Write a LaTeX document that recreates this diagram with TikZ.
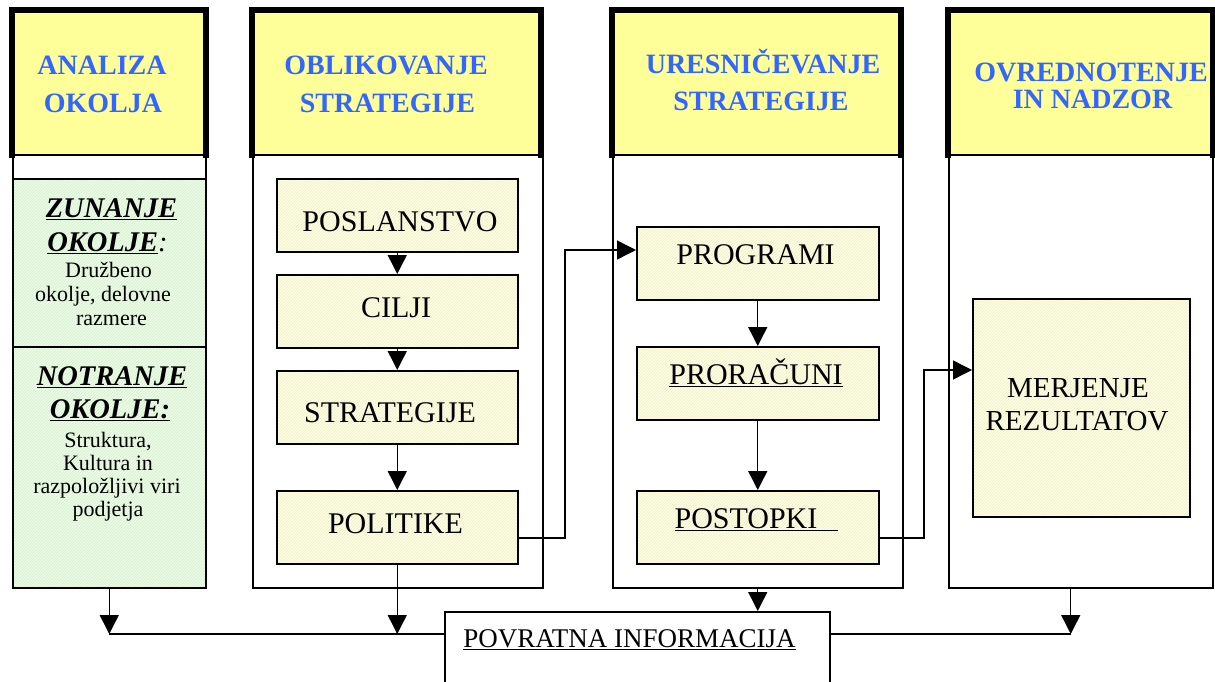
\documentclass[tikz,border=0pt]{standalone}
\usepackage{fontspec}
\setmainfont{Liberation Serif}
\usetikzlibrary{arrows.meta,patterns}

\definecolor{hdrfill}{RGB}{255,255,153}
\definecolor{hdrtext}{RGB}{51,102,255}
\definecolor{boxfill}{RGB}{254,254,226}
\definecolor{boxhatch}{RGB}{238,238,204}
\definecolor{envfill}{RGB}{236,251,230}
\definecolor{envhatch}{RGB}{214,240,208}

% underline with a rule of fixed depth and thickness
\newcommand\uln[1]{\setbox0\hbox{#1}\rlap{\rule[-3pt]{\wd0}{1.4pt}}\box0}

\begin{document}
\begin{tikzpicture}[x=1pt,y=-1pt,
  hdr/.style={fill=hdrfill, draw=black!55, line width=0.8pt, inner sep=0pt, anchor=north west},
  hdrframe/.style={line width=5.5pt, line join=miter},
  colbody/.style={draw, line width=1.5pt, inner sep=0pt, anchor=north west},
  envbox/.style={draw, line width=1.5pt, inner sep=0pt, anchor=north west,
    preaction={fill=envfill}, pattern=north east lines, pattern color=envhatch},
  stepbox/.style={draw, line width=1.5pt, inner sep=0pt, anchor=north west,
    preaction={fill=boxfill}, pattern=north east lines, pattern color=boxhatch},
  fbbox/.style={draw, fill=white, line width=1.5pt, inner sep=0pt, anchor=north west},
  headtxt/.style={font=\fontsize{28}{30}\selectfont\bfseries, text=hdrtext, anchor=base, inner sep=0pt},
  boxtxt/.style={font=\fontsize{30}{34}\selectfont, anchor=base, inner sep=0pt},
  merjtxt/.style={font=\fontsize{29}{33}\selectfont, anchor=base, inner sep=0pt},
  fbtxt/.style={font=\fontsize{27}{30}\selectfont, anchor=base, inner sep=0pt},
  envhead/.style={font=\fontsize{28.5}{32}\selectfont\bfseries\itshape, anchor=base, inner sep=0pt},
  envtxt/.style={font=\fontsize{22}{24}\selectfont, anchor=base, inner sep=0pt},
  arr/.style={line width=1.4pt, -{Triangle[width=19pt,length=19pt]}},
  link/.style={line width=1.4pt}]

\clip (0,0) rectangle (1215,682);
\useasboundingbox (0,0) rectangle (1215,682);

% ---- column headers
\node[hdr, minimum width=193pt, minimum height=144pt] (h1) at (12,10) {};
\node[hdr, minimum width=288pt, minimum height=144pt] (h2) at (252,10) {};
\node[hdr, minimum width=288pt, minimum height=144pt] (h3) at (612,10) {};
\node[hdr, minimum width=264pt, minimum height=144pt] (h4) at (948,10) {};
\foreach \h in {h1,h2,h3,h4}
  \draw[hdrframe] ([yshift=-3pt]\h.south west) -- (\h.north west) -- (\h.north east) -- ([yshift=-3pt]\h.south east);

% ---- column bodies
\node[colbody, minimum width=193pt, minimum height=433pt] (c1b) at (12,154) {};
\node[colbody, minimum width=290pt, minimum height=433pt] (c2b) at (252,154) {};
\node[colbody, minimum width=290pt, minimum height=433pt] (c3b) at (612,154) {};
\node[colbody, minimum width=264pt, minimum height=433pt] (c4b) at (948,154) {};

% ---- header titles
\node[headtxt] (h1a) at (102,75)  {ANALIZA};
\node[headtxt] (h1b) at (103,113) {OKOLJA};
\node[headtxt] (h2a) at (386,75)  {OBLIKOVANJE};
\node[headtxt] (h2b) at (387.5,113) {STRATEGIJE};
\node[headtxt] (h3a) at (763,74)  {URESNIČEVANJE};
\node[headtxt] (h3b) at (761,111) {STRATEGIJE};
\node[headtxt] (h4a) at (1091,82) {OVREDNOTENJE};
\node[headtxt] (h4b) at (1092.5,108.5) {IN NADZOR};

% ---- environment panels
\node[envbox, minimum width=193pt, minimum height=168pt] (ext) at (12,178) {};
\node[envbox, minimum width=193pt, minimum height=241pt] (int) at (12,346) {};

\node[envhead] (exta) at (111.5,217) {\uln{ZUNANJE}};
\node[envhead] (extb) at (107.5,251) {\uln{OKOLJE}{\mdseries:}};
\node[envtxt] (extc) at (108.5,277) {Družbeno};
\node[envtxt] (extd) at (103,301) {okolje, delovne};
\node[envtxt] (exte) at (111.5,325) {razmere};

\node[envhead] (inta) at (112,385) {\uln{NOTRANJE}};
\node[envhead] (intb) at (110,418) {\uln{OKOLJE:}};
\node[envtxt] (intc) at (108,447) {Struktura,};
\node[envtxt] (intd) at (108,470) {Kultura in};
\node[envtxt] (inte) at (107,493) {razpoložljivi viri};
\node[envtxt] (intf) at (108,516) {podjetja};

% ---- strategy formulation
\node[stepbox, minimum width=241pt, minimum height=73pt] (pos) at (276,178) {};
\node[stepbox, minimum width=241pt, minimum height=73pt] (cil) at (276,274) {};
\node[stepbox, minimum width=241pt, minimum height=73pt] (str) at (276,370) {};
\node[stepbox, minimum width=241pt, minimum height=73pt] (pol) at (276,490) {};
\node[boxtxt] (post1) at (400,231) {POSLANSTVO};
\node[boxtxt] (cilt) at (396,317) {CILJI};
\node[boxtxt] (strt) at (390,422) {STRATEGIJE};
\node[boxtxt] (polt) at (395.5,533) {POLITIKE};

% ---- strategy implementation
\node[stepbox, minimum width=242pt, minimum height=73pt] (prog) at (636,226) {};
\node[stepbox, minimum width=242pt, minimum height=73pt] (pror) at (636,346) {};
\node[stepbox, minimum width=242pt, minimum height=73pt] (post) at (636,490) {};
\node[boxtxt] (progt) at (755.5,264) {PROGRAMI};
\node[boxtxt] (prort) at (756,384) {\uln{PRORAČUNI}};
\node[boxtxt] (postt) at (756.5,528) {\uln{POSTOPKI\hspace*{21pt}}};

% ---- evaluation and control
\node[stepbox, minimum width=217pt, minimum height=218pt] (merj) at (972,298) {};
\node[merjtxt] (merja) at (1078,397) {MERJENJE};
\node[merjtxt] (merjb) at (1077,430) {REZULTATOV};

% ---- feedback
\node[fbbox, minimum width=385pt, minimum height=90pt] (povr) at (444,611) {};
\node[fbtxt] (povrt) at (629.5,647) {\uln{POVRATNA INFORMACIJA}};

% ---- flow inside the columns
\draw[arr] (pos.south) -- (cil.north);
\draw[arr] (cil.south) -- (str.north);
\draw[arr] (str.south) -- (pol.north);
\draw[arr] (prog.south) -- (pror.north);
\draw[arr] (pror.south) -- (post.north);

% ---- links between the columns
\coordinate (jog1) at (565,538);
\coordinate (progy) at (0,250);
\draw[arr] (pol.east |- jog1) -- (jog1) |- (prog.west |- progy);
\coordinate (jog2) at (924,538);
\coordinate (merjy) at (0,370);
\draw[arr] (post.east |- jog2) -- (jog2) |- (merj.west |- merjy);

% ---- feedback loop
\coordinate (fb) at (0,634);
\coordinate (c4out) at ([xshift=-10pt]c4b.south);
\draw[link] (c1b.south |- fb) -- (povr.west |- fb);
\draw[link] (povr.east |- fb) -- (c4out |- fb);
\draw[arr] (c1b.south) -- (c1b.south |- fb);
\draw[arr] (pol.south) -- (pol.south |- fb);
\draw[arr] (c3b.south) -- (c3b.south |- povr.north);
\draw[arr] (c4out) -- (c4out |- fb);
\end{tikzpicture}
\end{document}
